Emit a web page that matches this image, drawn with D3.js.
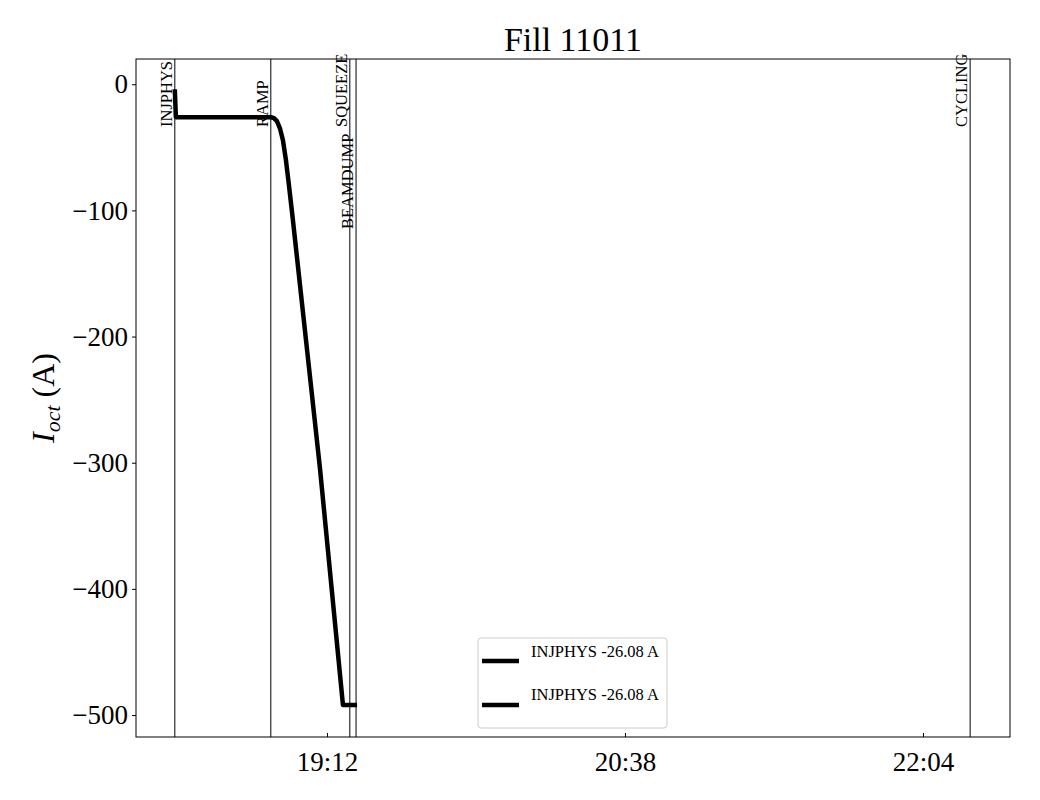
<!DOCTYPE html>
<html>
<head>
<meta charset="utf-8">
<script src="https://cdn.jsdelivr.net/npm/d3@7"></script>
<style>
  body { margin: 0; background: #fff; }
  text { font-family: "Liberation Serif", "DejaVu Serif", serif; fill: #000; }
</style>
</head>
<body>
<svg id="chart" width="1040" height="800"></svg>
<script>
// current trace
var times = ["18:28:06", "18:28:24", "18:55:48", "18:56:42", "18:57:34", "18:58:26", "18:59:18",
             "19:00:10", "19:01:02", "19:02:11", "19:09:59", "19:16:37", "19:20:42"];
var current = [-4, -26.08, -26.08, -26.9, -29.3, -34.9, -44.4, -60.2, -80, -107.8, -304.3, -492, -492];

// beam modes
var modeNames = ["INJPHYS", "RAMP", "SQUEEZE", "BEAMDUMP", "CYCLING"];
var modeTimes = ["18:28:06", "18:55:48", "19:18:36", "19:20:24", "22:17:36"];
var modeLow = [false, false, false, true, false];

var xTicks = ["19:12", "20:38", "22:04"];
var yTicks = [0, -100, -200, -300, -400, -500];
var xLimits = ["18:16:54", "22:29:06"];
var yLimits = [-517.4, 20];

var legendLabels = ["INJPHYS -26.08 A", "INJPHYS -26.08 A"];

var parse = d3.timeParse("%H:%M:%S");
var parseTick = d3.timeParse("%H:%M");

var svg = d3.select("#chart"),
    margin = { top: 59, right: 30, bottom: 63, left: 136 },
    width = 1040 - margin.left - margin.right,
    height = 800 - margin.top - margin.bottom;

var g = svg.append("g").attr("transform", "translate(" + margin.left + "," + margin.top + ")");

var x = d3.scaleTime()
    .domain(xLimits.map(parse))
    .range([0, width]);

var y = d3.scaleLinear()
    .domain(yLimits)
    .range([height, 0]);

var data = times.map(function (t, i) { return { t: parse(t), v: current[i] }; });

// vertical mode lines
modeTimes.forEach(function (t, i) {
    var px = x(parse(t));
    g.append("line")
        .attr("x1", px).attr("x2", px)
        .attr("y1", 0).attr("y2", height)
        .attr("stroke", "#000")
        .attr("stroke-width", 1);
    g.append("text")
        .attr("transform", "translate(" + (px - 3) + "," + (modeLow[i] ? 170 : 68) + ") rotate(-90)")
        .attr("text-anchor", "start")
        .style("font-size", "16.5px")
        .text(modeNames[i]);
});

// current line
var line = d3.line()
    .x(function (d) { return x(d.t); })
    .y(function (d) { return y(d.v); });

g.append("path")
    .datum(data)
    .attr("d", line)
    .attr("fill", "none")
    .attr("stroke", "#000")
    .attr("stroke-width", 4.5)
    .attr("stroke-linejoin", "round");

// axes
var xAxis = d3.axisBottom(x)
    .tickValues(xTicks.map(parseTick))
    .tickFormat(d3.timeFormat("%H:%M"))
    .tickSizeInner(-4)
    .tickSizeOuter(0)
    .tickPadding(10);

var gx = g.append("g")
    .attr("transform", "translate(0," + height + ")")
    .call(xAxis)
    .attr("font-size", 27);
gx.select(".domain").remove();
gx.selectAll("text").attr("dy", "0.9em");

var yAxis = d3.axisLeft(y)
    .tickValues(yTicks)
    .tickFormat(function (d) { return d < 0 ? "\u2212" + Math.abs(d) : d; })
    .tickSizeInner(4)
    .tickSizeOuter(0)
    .tickPadding(4);

var gy = g.append("g")
    .call(yAxis)
    .attr("font-size", 27);
gy.select(".domain").remove();

// frame
g.append("rect")
    .attr("width", width)
    .attr("height", height)
    .attr("fill", "none")
    .attr("stroke", "#000")
    .attr("stroke-width", 1);

// title
svg.append("text")
    .attr("x", margin.left + width / 2)
    .attr("y", 51)
    .attr("text-anchor", "middle")
    .style("font-size", "34px")
    .text("Fill 11011");

// y label
var yl = svg.append("text")
    .attr("transform", "translate(54," + (margin.top + height / 2) + ") rotate(-90)")
    .attr("text-anchor", "middle")
    .style("font-size", "32px");
yl.append("tspan").style("font-style", "italic").text("I");
yl.append("tspan").style("font-style", "italic").style("font-size", "22px").attr("dy", "6").text("oct");
yl.append("tspan").attr("dy", "-6").text(" (A)");

// legend
var lg = svg.append("g").attr("transform", "translate(478,638)");
lg.append("rect")
    .attr("width", 189)
    .attr("height", 90)
    .attr("rx", 3)
    .attr("fill", "#fff")
    .attr("stroke", "#ccc")
    .attr("stroke-width", 1);
legendLabels.forEach(function (s, i) {
    lg.append("line")
        .attr("x1", 4).attr("x2", 41)
        .attr("y1", 23 + i * 44).attr("y2", 23 + i * 44)
        .attr("stroke", "#000")
        .attr("stroke-width", 4.5);
    lg.append("text")
        .attr("x", 53)
        .attr("y", 19 + i * 43)
        .style("font-size", "16.5px")
        .text(s);
});
</script>
</body>
</html>
